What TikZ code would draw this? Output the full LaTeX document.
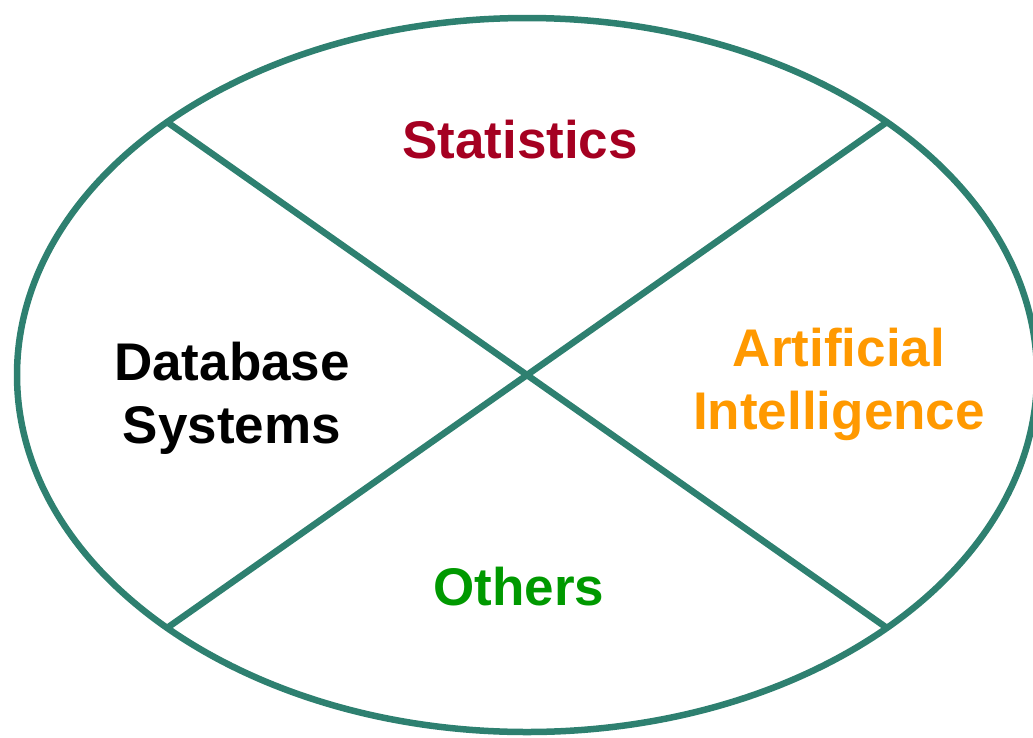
\documentclass[tikz,border=0pt]{standalone}
\usepackage{fontspec}
\setmainfont{Liberation Sans}
\definecolor{rim}{RGB}{46,128,112}
\definecolor{statred}{RGB}{165,0,33}
\definecolor{aiorange}{RGB}{255,153,0}
\definecolor{othgreen}{RGB}{0,153,0}
\tikzset{
  rimline/.style={draw=rim, line width=6.5pt},
  field/.style={font=\fontsize{53}{63}\selectfont\bfseries, align=center, inner sep=0pt},
}
\begin{document}
\begin{tikzpicture}[x=1pt, y=-1pt]
  \clip (0,0) rectangle (1033,737);
  % outer ellipse
  \draw[rimline] (527,375) ellipse [x radius=510, y radius=357];
  % corner points where the diagonals meet the ellipse
  \coordinate (tl) at (167,122);
  \coordinate (tr) at (887,122);
  \coordinate (bl) at (167,628);
  \coordinate (br) at (887,628);
  \draw[rimline] (tl) -- (br);
  \draw[rimline] (tr) -- (bl);
  % field labels
  \node[field, text=statred, anchor=base] (stat) at (520,158) {Statistics};
  \node[field, text=black] (db) at (232,398) {Database\\Systems};
  \node[field, text=aiorange] (ai) at (839,384) {Artificial\\Intelligence};
  \node[field, text=othgreen, anchor=base] (oth) at (519,605) {Others};
\end{tikzpicture}
\end{document}
